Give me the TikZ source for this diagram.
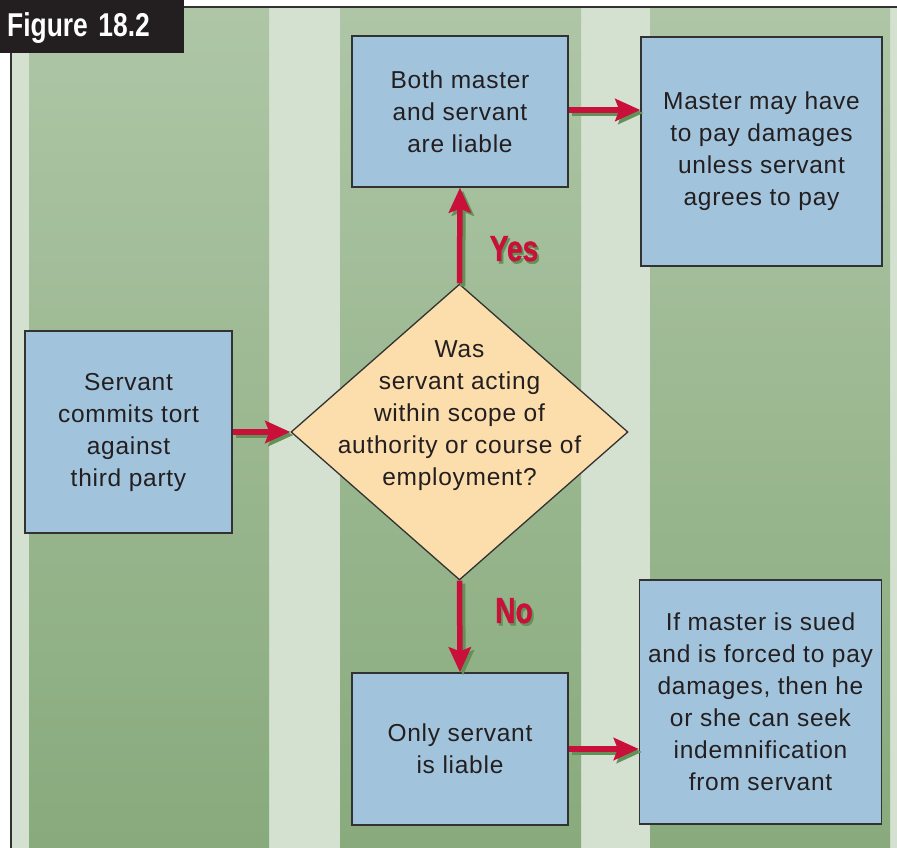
\documentclass[tikz,border=0pt]{standalone}
\usepackage{fontspec}
\setmainfont{Liberation Sans}
\newfontfamily\boxfont{Liberation Sans}[LetterSpace=3]
\newfontfamily\answerfont{Liberation Sans Bold}[FakeBold=1.2]
\usetikzlibrary{shapes.geometric,arrows.meta}
\definecolor{greentop}{RGB}{174,198,166}
\definecolor{greenbot}{RGB}{136,170,124}
\definecolor{lightstripe}{RGB}{212,224,208}
\definecolor{boxblue}{RGB}{162,195,220}
\definecolor{diamondfill}{RGB}{252,221,172}
\definecolor{arrowred}{RGB}{200,16,58}
\definecolor{shadowgreen}{RGB}{98,146,88}
\definecolor{textdark}{RGB}{35,31,32}
\definecolor{edgegray}{RGB}{50,50,50}
\newcommand\shadowed[1]{\makebox[0pt][l]{\hspace{2.5pt}\raisebox{-2.5pt}{\color{shadowgreen}#1}}#1}
\tikzset{
  box/.style={draw=edgegray, line width=1.3pt, fill=boxblue, inner sep=0pt, align=center,
    font=\boxfont\fontsize{24.5}{32}\selectfont, text=textdark},
  decision/.style={diamond, draw=edgegray, line width=1.3pt, fill=diamondfill, inner sep=0pt},
  bodytext/.style={align=center, font=\boxfont\fontsize{24.5}{32}\selectfont, text=textdark, inner sep=0pt},
  flowtip/.style={-{Stealth[length=25pt,width=22pt,inset=4pt]}},
  flow/.style={draw=arrowred, line width=5.5pt, flowtip},
  flowshadow/.style={draw=shadowgreen, line width=5.5pt, flowtip, transform canvas={shift={(3pt,-3pt)}}},
  answer/.style={inner sep=0pt, text=arrowred, font=\answerfont\fontsize{36}{38}\selectfont},
}
\begin{document}
\begin{tikzpicture}[x=1pt,y=-1pt]
\useasboundingbox (0,0) rectangle (897,848);
% background stripes
\fill[white] (0,0) rectangle (897,848);
\fill[lightstripe] (11,7) rectangle (897,848);
\shade[top color=greentop, bottom color=greenbot] (29,7) rectangle (269,848);
\shade[top color=greentop, bottom color=greenbot] (340,7) rectangle (581,848);
\shade[top color=greentop, bottom color=greenbot] (650,7) rectangle (890,848);
\draw[edgegray, line width=1.5pt] (11,848) -- (11,7) -- (897,7);
% figure label
\fill[textdark] (0,0) rectangle (184,53);
\node[anchor=base west, inner sep=0pt, text=white] (fig) at (7,37)
  {\scalebox{0.8}[1]{\bfseries\fontsize{33}{36}\selectfont Figure\hspace{0.4em}18.2}};
% nodes
\node[box, minimum width=207pt, minimum height=202pt] (L) at (128.5,432)
  {Servant\\commits tort\\against\\third party};
\node[decision, minimum width=337pt, minimum height=296pt, aspect=1.1385] (D) at (459.5,432) {};
\node[bodytext] (Dt) at (459.5,416)
  {Was\\servant acting\\within scope of\\authority or course of\\employment?};
\node[box, minimum width=216pt, minimum height=151pt] (T1) at (460,111.5)
  {Both master\\and servant\\are liable};
\node[box, minimum width=241pt, minimum height=229pt] (T2) at (761.5,151.5)
  {Master may have\\to pay damages\\unless servant\\agrees to pay};
\node[box, minimum width=216pt, minimum height=152pt] (B1) at (460,749)
  {Only servant\\is liable};
\node[box, minimum width=242pt, minimum height=244pt] (B2) at (760.5,702)
  {If master is sued\\and is forced to pay\\damages, then he\\or she can seek\\indemnification\\from servant};
% connectors: shadows
\draw[flowshadow] (L.east) -- (D.west);
\draw[flowshadow] (D.north) -- (T1.south);
\draw[flowshadow] (D.south) -- (B1.north);
\draw[flowshadow] ([yshift=1.5pt]T1.east) -- ([yshift=1.5pt]T1.east -| T2.west);
\draw[flowshadow] (B1.east) -- (B1.east -| B2.west);
% connectors
\draw[flow] (L.east) -- (D.west);
\draw[flow] (D.north) -- (T1.south);
\draw[flow] (D.south) -- (B1.north);
\draw[flow] ([yshift=1.5pt]T1.east) -- ([yshift=1.5pt]T1.east -| T2.west);
\draw[flow] (B1.east) -- (B1.east -| B2.west);
% labels
\node[answer] (yes) at (514,250) {\scalebox{0.78}[1]{\shadowed{Yes}}};
\node[answer] (no) at (514,612) {\scalebox{0.78}[1]{\shadowed{No}}};
\end{tikzpicture}
\end{document}
